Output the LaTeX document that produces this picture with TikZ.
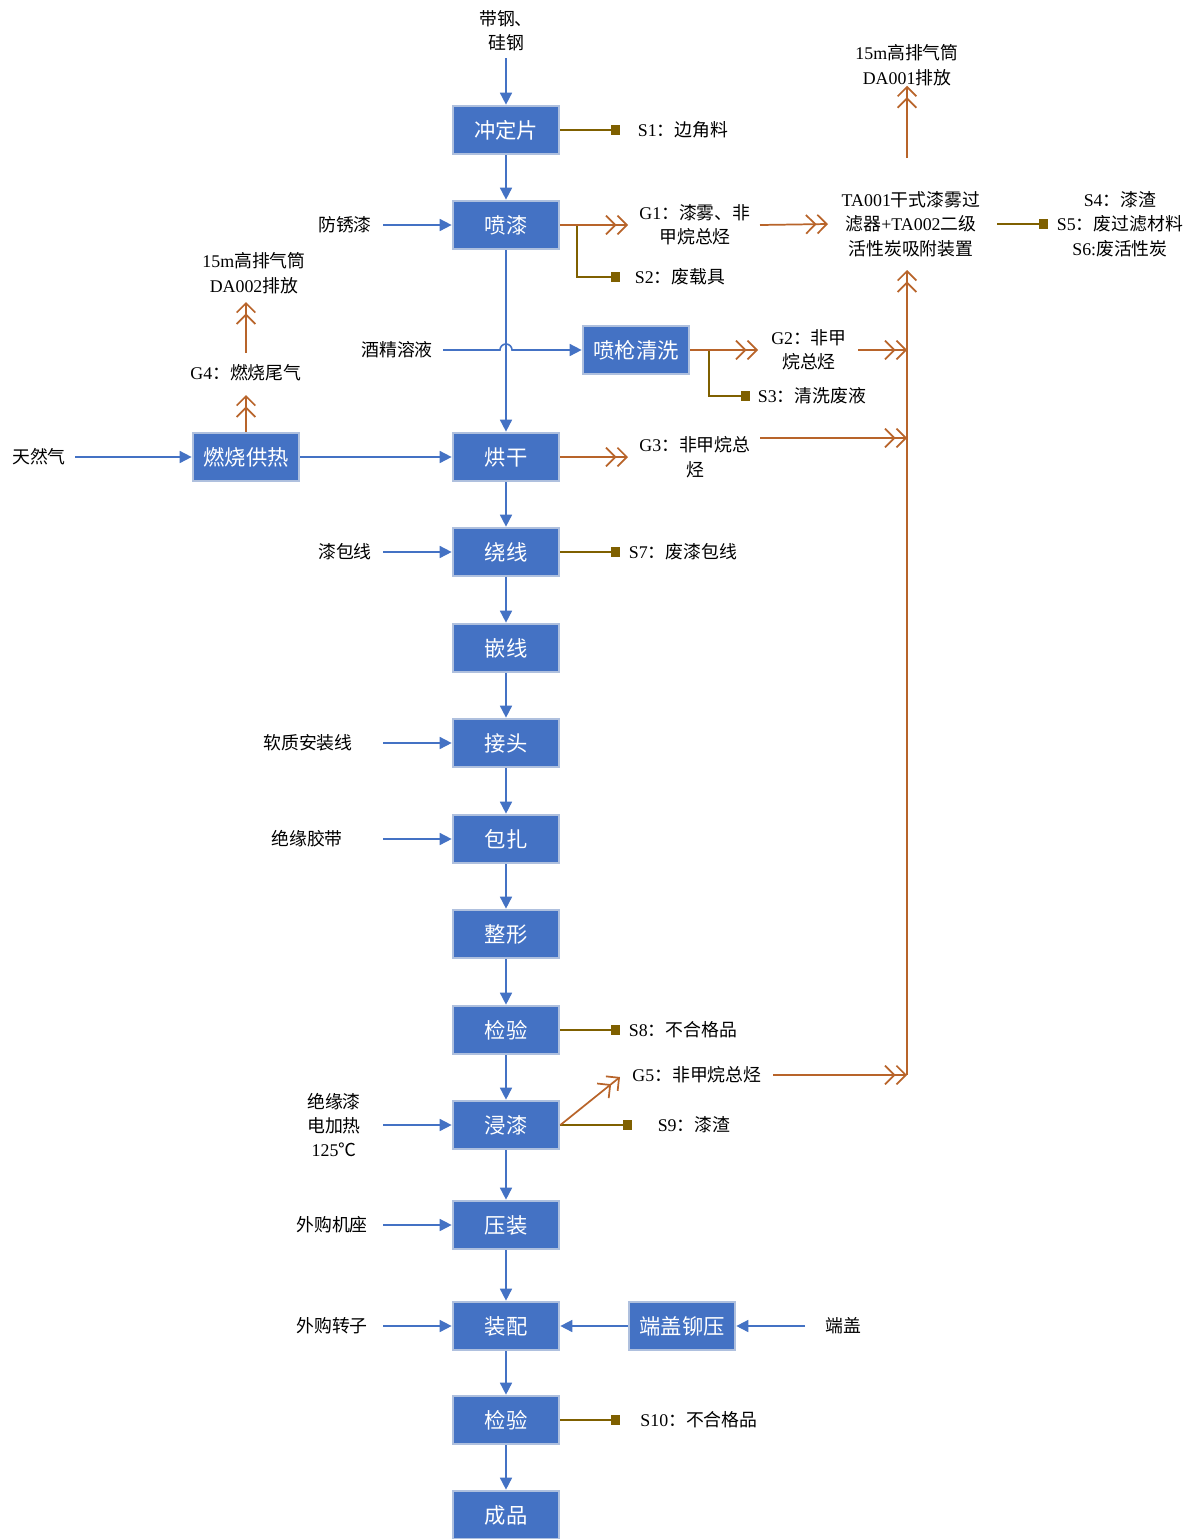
\documentclass[tikz,border=0pt]{standalone}
\usepackage{fontspec}
\setmainfont{Noto Sans CJK SC}
\newfontfamily\lat{Liberation Serif}
\usetikzlibrary{arrows.meta}
\definecolor{boxblue}{HTML}{4472C4}
\definecolor{boxedge}{HTML}{AFC0DE}
\definecolor{gasbrown}{HTML}{B8642A}
\definecolor{solidbrown}{HTML}{7F6000}
\begin{document}
\begin{tikzpicture}[x=0.75pt,y=-0.75pt,
 proc/.style={draw=boxedge,line width=1.5pt,fill=boxblue,text=white,minimum width=80pt,minimum height=36.5pt,inner sep=0pt,font=\fontsize{16}{18}\selectfont},
 lbl/.style={font=\fontsize{13.4}{18.3}\selectfont,align=center,inner sep=0pt},
 flow/.style={draw=boxblue,line width=1.2pt,-{Triangle[length=9pt,width=9pt]}},
 gas/.style={draw=gasbrown,line width=1.3pt,-{Straight Barb[length=7pt,width=14pt]Straight Barb[length=7pt,width=14pt]}},
 waste/.style={draw=solidbrown,line width=1.2pt,-{Square[length=7pt,width=7pt]}}]
\useasboundingbox (0,0) rectangle (1197,1539);
% process boxes
\node[proc] (p1) at (506,130) {冲定片};
\node[proc] (p2) at (506,225) {喷漆};
\node[proc] (p3) at (506,457) {烘干};
\node[proc] (p4) at (506,552) {绕线};
\node[proc] (p5) at (506,648) {嵌线};
\node[proc] (p6) at (506,743) {接头};
\node[proc] (p7) at (506,839) {包扎};
\node[proc] (p8) at (506,934) {整形};
\node[proc] (p9) at (506,1030) {检验};
\node[proc] (p10) at (506,1125) {浸漆};
\node[proc] (p11) at (506,1225) {压装};
\node[proc] (p12) at (506,1326) {装配};
\node[proc] (p13) at (506,1420) {检验};
\node[proc] (p14) at (506,1515) {成品};
\node[proc] (qx) at (636,350) {喷枪清洗};
\node[proc] (rs) at (246,457) {燃烧供热};
\node[proc] (dg) at (682,1326) {端盖铆压};
% input labels
\node[lbl] (in0) at (506,31) {带钢、\\硅钢};
\node[lbl] (in1) at (345,225) {防锈漆};
\node[lbl] (in2) at (397,350) {酒精溶液};
\node[lbl] (in3) at (39,457) {天然气};
\node[lbl] (in4) at (345,552) {漆包线};
\node[lbl] (in5) at (308,743) {软质安装线};
\node[lbl] (in6) at (307,839) {绝缘胶带};
\node[lbl] (in7) at (334,1125) {绝缘漆\\电加热\\{\lat 125}℃};
\node[lbl] (in8) at (332,1225) {外购机座};
\node[lbl] (in9) at (332,1326) {外购转子};
\node[lbl] (in10) at (843,1326) {端盖};
% output labels
\node[lbl] (s1) at (683,130) {{\lat S1}：边角料};
\node[lbl] (g1) at (695,225) {{\lat G1}：漆雾、非\\甲烷总烃};
\node[lbl] (s2) at (680,277) {{\lat S2}：废载具};
\node[lbl] (ta) at (911,224) {{\lat TA001}干式漆雾过\\滤器{\lat +TA002}二级\\活性炭吸附装置};
\node[lbl] (s456) at (1120,224) {{\lat S4}：漆渣\\{\lat S5}：废过滤材料\\{\lat S6:}废活性炭};
\node[lbl] (ex1) at (907,65) {{\lat 15m}高排气筒\\{\lat DA001}排放};
\node[lbl] (g2) at (809,350) {{\lat G2}：非甲\\烷总烃};
\node[lbl] (s3) at (812,396) {{\lat S3}：清洗废液};
\node[lbl] (g3) at (695,457) {{\lat G3}：非甲烷总\\烃};
\node[lbl] (g4) at (246,373) {{\lat G4}：燃烧尾气};
\node[lbl] (ex2) at (254,273) {{\lat 15m}高排气筒\\{\lat DA002}排放};
\node[lbl] (s7) at (683,552) {{\lat S7}：废漆包线};
\node[lbl] (s8) at (683,1030) {{\lat S8}：不合格品};
\node[lbl] (g5) at (697,1075) {{\lat G5}：非甲烷总烃};
\node[lbl] (s9) at (694,1125) {{\lat S9}：漆渣};
\node[lbl] (s10) at (699,1420) {{\lat S10}：不合格品};
% helper coordinates
\coordinate (xin) at (383,0);
\coordinate (xs) at (620,0);
\coordinate (xj) at (907,0);
\coordinate (in0o) at (506,58);
\coordinate (in2o) at (443,350);
\coordinate (in3o) at (75,457);
\coordinate (in10o) at (805,1326);
\coordinate (b1) at (577,225);
\coordinate (b2) at (709,350);
\coordinate (g1i) at (628,225);
\coordinate (g1o) at (760,225);
\coordinate (tai) at (828,224);
\coordinate (tao) at (997,224);
\coordinate (s456i) at (1048,224);
\coordinate (tau) at (907,158);
\coordinate (tab) at (907,270);
\coordinate (g2i) at (758,350);
\coordinate (g2o) at (858,350);
\coordinate (s3i) at (750,396);
\coordinate (g3i) at (628,457);
\coordinate (g3o) at (760,438);
\coordinate (g4i) at (246,395);
\coordinate (g4o) at (246,353);
\coordinate (ex2i) at (246,302);
\coordinate (g5i) at (620,1077);
\coordinate (g5o) at (773,1075);
\coordinate (s9i) at (632,1125);
% main chain
\draw[flow] (in0o) -- (p1.north);
\draw[flow] (p1) -- (p2);
\draw[flow] (p2) -- (p3);
\draw[flow] (p3) -- (p4);
\draw[flow] (p4) -- (p5);
\draw[flow] (p5) -- (p6);
\draw[flow] (p6) -- (p7);
\draw[flow] (p7) -- (p8);
\draw[flow] (p8) -- (p9);
\draw[flow] (p9) -- (p10);
\draw[flow] (p10) -- (p11);
\draw[flow] (p11) -- (p12);
\draw[flow] (p12) -- (p13);
\draw[flow] (p13) -- (p14);
% inputs
\draw[flow] (in1.east -| xin) -- (p2.west);
\draw[flow] (in2o) -- (500,350) arc (180:360:6) -- (qx.west);
\draw[flow] (in3o) -- (rs.west);
\draw[flow] (rs.east) -- (p3.west);
\draw[flow] (in4.east -| xin) -- (p4.west);
\draw[flow] (in5.east -| xin) -- (p6.west);
\draw[flow] (in6.east -| xin) -- (p7.west);
\draw[flow] (in7.east -| xin) -- (p10.west);
\draw[flow] (in8.east -| xin) -- (p11.west);
\draw[flow] (in9.east -| xin) -- (p12.west);
\draw[flow] (in10o) -- (dg.east);
\draw[flow] (dg.west) -- (p12.east);
% solid waste
\draw[waste] (p1.east) -- (p1.east -| xs);
\draw[waste] (b1) |- (s2.west -| xs);
\draw[waste] (b2) |- (s3i);
\draw[waste] (tao) -- (s456i);
\draw[waste] (p4.east) -- (p4.east -| xs);
\draw[waste] (p9.east) -- (p9.east -| xs);
\draw[waste] (p10.east) -- (s9i);
\draw[waste] (p13.east) -- (p13.east -| xs);
% gas
\draw[gas] (p2.east) -- (g1i);
\draw[gas] (g1o) -- (tai);
\draw[gas] (tau) -- (ex1.south -| tau);
\draw[gas] (qx.east) -- (g2i);
\draw[gas] (g2o) -- (g2o -| xj);
\draw[gas] (p3.east) -- (g3i);
\draw[gas] (g3o) -- (g3o -| xj);
\draw[gas] (rs.north) -- (g4i);
\draw[gas] (g4o) -- (ex2i);
\draw[gas] (p10.east) -- (g5i);
\draw[gas] (g5o) -- (g5o -| xj);
\draw[gas] (g5o -| xj) -- (tab);
\end{tikzpicture}
\end{document}
